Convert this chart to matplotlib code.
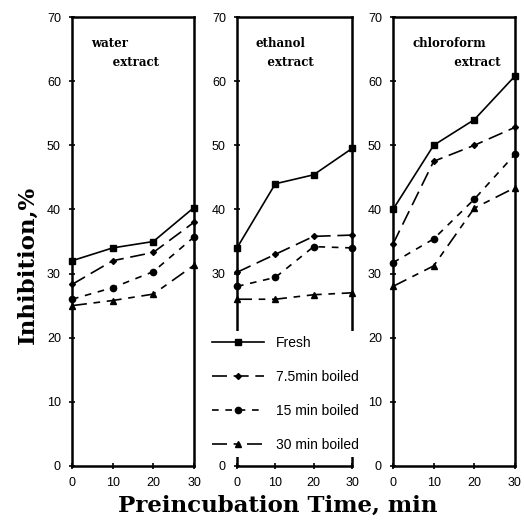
import matplotlib
matplotlib.use("Agg")
import matplotlib.pyplot as plt

times = [0, 10, 20, 30]
series_names = ["Fresh", "7.5min boiled", "15 min boiled", "30 min boiled"]

water = [
    [32, 34, 35, 40.3],
    [28.3, 32, 33.3, 38],
    [26, 27.8, 30.3, 35.7],
    [25, 25.8, 26.8, 31.3],
]
ethanol = [
    [34, 44, 45.4, 49.5],
    [30.2, 33, 35.8, 36],
    [28, 29.4, 34.2, 34],
    [26, 26, 26.7, 27],
]
chloroform = [
    [40, 50, 54, 60.8],
    [34.6, 47.5, 50, 52.8],
    [31.7, 35.4, 41.6, 48.6],
    [28, 31.2, 40.2, 43.4],
]
panel_titles = ["water\n     extract", "ethanol\n   extract", "chloroform\n          extract"]
yticks = [0, 10, 20, 30, 40, 50, 60, 70]

markers = ["s", "D", "o", "^"]
msizes = [5, 3, 4.5, 4]
dashes = [None, (9, 4), (4, 4), (9, 4, 4, 4)]

fig = plt.figure(figsize=(5.24, 5.2), dpi=100)
boxes = [(72, 122), (237, 115), (393, 122)]
tick_font = {"family": "Liberation Sans", "size": 9}

handles = []
for (left, w), data, title in zip(boxes, [water, ethanol, chloroform], panel_titles):
    ax = fig.add_axes([left / 524, 54 / 520, w / 524, 449 / 520])
    for i, ys in enumerate(data):
        kw = dict(color="black", lw=1.2, marker=markers[i], ms=msizes[i], clip_on=False)
        if dashes[i] is None:
            (ln,) = ax.plot(times, ys, ls="-", **kw)
        else:
            (ln,) = ax.plot(times, ys, ls="--", dashes=dashes[i], **kw)
        if len(handles) < 4:
            handles.append(ln)
    ax.set_xlim(0, 30)
    ax.set_ylim(0, 70)
    ax.set_xticks(times)
    ax.set_yticks(yticks)
    ax.set_xticklabels([str(t) for t in times], fontdict=tick_font)
    ax.set_yticklabels([str(t) for t in yticks], fontdict=tick_font)
    ax.tick_params(direction="inout", length=4, width=1.2, pad=6)
    for s in ax.spines.values():
        s.set_linewidth(1.8)
    ax.text(0.16, 0.955, title, transform=ax.transAxes, va="top", ha="left",
            family="DejaVu Serif", weight="bold", fontsize=8.5, linespacing=1.6)

leg = fig.legend(handles, series_names, loc="upper left",
                 bbox_to_anchor=(204 / 524, 1 - 328 / 520),
                 prop={"family": "Liberation Sans", "size": 10},
                 handlelength=3.8, labelspacing=1.45, handletextpad=0.8,
                 borderpad=0.35, borderaxespad=0.2, frameon=True, fancybox=False)
leg.get_frame().set_facecolor("white")
leg.get_frame().set_edgecolor("none")
leg.get_frame().set_alpha(1)

fig.text(0.052, 0.49, "Inhibition,%", rotation=90, ha="center", va="center",
         family="DejaVu Serif", weight="bold", fontsize=16.5)
fig.text(0.53, 0.028, "Preincubation Time, min", ha="center", va="center",
         family="DejaVu Serif", weight="bold", fontsize=16.5)

fig.savefig("out.png", dpi=100)
